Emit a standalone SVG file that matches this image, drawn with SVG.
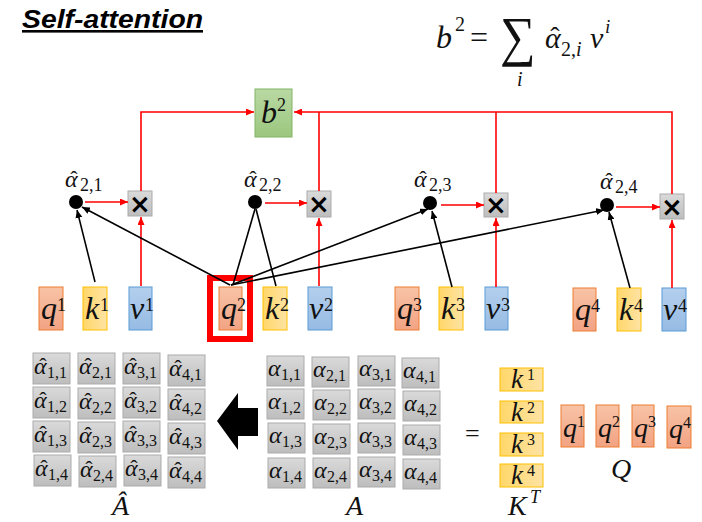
<svg xmlns="http://www.w3.org/2000/svg" width="702" height="522" viewBox="0 0 702 522">
<defs>
<linearGradient id="gq" x1="0" y1="0" x2="0" y2="1"><stop offset="0" stop-color="#F8C3A6"/><stop offset="1" stop-color="#F2A383"/></linearGradient>
<linearGradient id="gk" x1="0" y1="0" x2="1" y2="0"><stop offset="0" stop-color="#FFD76A"/><stop offset="1" stop-color="#FFE3A3"/></linearGradient>
<linearGradient id="gv" x1="0" y1="0" x2="0" y2="1"><stop offset="0" stop-color="#B4CFEE"/><stop offset="1" stop-color="#96BBE3"/></linearGradient>
<linearGradient id="gg" x1="0" y1="0" x2="0" y2="1"><stop offset="0" stop-color="#DADADA"/><stop offset="1" stop-color="#BDBDBD"/></linearGradient>
<linearGradient id="gb" x1="0" y1="0" x2="0" y2="1"><stop offset="0" stop-color="#B9D9A3"/><stop offset="1" stop-color="#9CC77F"/></linearGradient>
<marker id="ar" viewBox="0 0 8 7" markerWidth="8" markerHeight="7" refX="8" refY="3.5" orient="auto" markerUnits="userSpaceOnUse"><path d="M0,0 L8,3.5 L0,7 z" fill="#FF0000"/></marker>
<marker id="ab" viewBox="0 0 8 7" markerWidth="8" markerHeight="7" refX="8" refY="3.5" orient="auto" markerUnits="userSpaceOnUse"><path d="M0,0 L8,3.5 L0,7 z" fill="#000"/></marker>
</defs>
<style>
.m{font-family:"Liberation Serif","DejaVu Serif",serif;font-style:italic;fill:#111}
.n{font-family:"Liberation Serif","DejaVu Serif",serif;fill:#111}
.q{fill:url(#gq);stroke:#ED7D31;stroke-width:1}
.k{fill:url(#gk);stroke:#FFC000;stroke-width:1}
.v{fill:url(#gv);stroke:#5B9BD5;stroke-width:1}
.g{fill:url(#gg);stroke:#ABABAB;stroke-width:1}
.vl{font-size:32px}
.sp{font-size:18px}
.red{stroke:#FF0000;stroke-width:1.6;fill:none}
.blk{stroke:#000;stroke-width:1.6;fill:none}
.cl{font-size:24px;font-style:italic}
.cs{font-size:16px}
.ch{font-size:22px;font-style:normal}
</style>
<rect width="702" height="522" fill="#fff"/>
<text x="22" y="28" font-family="'Liberation Sans',Arial,sans-serif" font-size="26" font-weight="bold" font-style="italic" text-decoration="underline" textLength="181" lengthAdjust="spacingAndGlyphs" fill="#000">Self-attention</text>

<g id="equation">
<text x="436" y="48" class="m" font-size="32">b</text>
<text x="455" y="31" class="n" font-size="20">2</text>
<text x="470" y="48" class="n" font-size="32">=</text>
<text x="500" y="55" class="n" font-size="50" transform="translate(500 55) scale(1 1.1) translate(-500 -55)">∑</text>
<text x="517" y="86" class="m" font-size="20">i</text>
<text class="n" font-size="20"><tspan x="545" y="48" font-size="30" font-style="italic">α</tspan><tspan x="550.3" y="46" font-size="28">ˆ</tspan><tspan x="561" y="56">2,</tspan><tspan font-style="italic">i</tspan></text>
<text x="590" y="48" class="m" font-size="30">v</text>
<text x="605" y="33" class="m" font-size="19">i</text>
</g>

<g id="b2"><rect x="255" y="89" width="37" height="48" fill="url(#gb)" stroke="#82B366" stroke-width="1"/>
<text x="261" y="123" class="m vl">b</text><text x="277" y="111" class="n sp">2</text></g>

<g id="dots">
<g id="a21"><circle cx="76" cy="202" r="7" fill="#000"/><text class="n" font-size="18"><tspan class="cl" x="65" y="187">α</tspan><tspan class="ch" x="70.3" y="186">ˆ</tspan><tspan x="80" y="191">2,1</tspan></text></g>
<g id="a22"><circle cx="255" cy="202" r="7" fill="#000"/><text class="n" font-size="18"><tspan class="cl" x="244" y="187">α</tspan><tspan class="ch" x="249.3" y="186">ˆ</tspan><tspan x="259" y="191">2,2</tspan></text></g>
<g id="a23"><circle cx="430" cy="203" r="7" fill="#000"/><text class="n" font-size="18"><tspan class="cl" x="414" y="187">α</tspan><tspan class="ch" x="419.3" y="186">ˆ</tspan><tspan x="429" y="191">2,3</tspan></text></g>
<g id="a24"><circle cx="607" cy="205" r="7" fill="#000"/><text class="n" font-size="18"><tspan class="cl" x="600" y="189">α</tspan><tspan class="ch" x="605.3" y="188">ˆ</tspan><tspan x="615" y="193">2,4</tspan></text></g>
</g>

<g id="mults" font-family="'DejaVu Sans',sans-serif" font-size="26" font-weight="bold" text-anchor="middle">
<g id="x1"><rect x="128" y="191" width="24" height="25" class="g"/><text x="140" y="213">×</text></g>
<g id="x2"><rect x="307" y="191" width="24" height="26" class="g"/><text x="319" y="213">×</text></g>
<g id="x3"><rect x="484" y="193" width="24" height="24" class="g"/><text x="496" y="214">×</text></g>
<g id="x4"><rect x="660" y="194" width="24" height="25" class="g"/><text x="672" y="216">×</text></g>
</g>

<g id="vectors">
<g id="q1"><rect x="39" y="287" width="24" height="43" class="q"/><text x="41" y="319" class="m vl">q</text><text x="57" y="311" class="n sp">1</text></g>
<g id="k1"><rect x="83" y="287" width="24" height="43" class="k"/><text x="85" y="319" class="m vl">k</text><text x="100" y="311" class="n sp">1</text></g>
<g id="v1"><rect x="129" y="287" width="23" height="43" class="v"/><text x="130" y="319" class="m vl">v</text><text x="145" y="311" class="n sp">1</text></g>
<g id="q2"><rect x="219" y="287" width="23" height="43" class="q"/><text x="221" y="319" class="m vl">q</text><text x="237" y="311" class="n sp">2</text></g>
<g id="k2"><rect x="263" y="287" width="24" height="43" class="k"/><text x="265" y="319" class="m vl">k</text><text x="280" y="311" class="n sp">2</text></g>
<g id="v2"><rect x="308" y="287" width="24" height="43" class="v"/><text x="309" y="319" class="m vl">v</text><text x="324" y="311" class="n sp">2</text></g>
<g id="q3"><rect x="395" y="287" width="24" height="43" class="q"/><text x="397" y="319" class="m vl">q</text><text x="413" y="311" class="n sp">3</text></g>
<g id="k3"><rect x="439" y="287" width="24" height="43" class="k"/><text x="441" y="319" class="m vl">k</text><text x="456" y="311" class="n sp">3</text></g>
<g id="v3"><rect x="485" y="287" width="23" height="43" class="v"/><text x="486" y="319" class="m vl">v</text><text x="501" y="311" class="n sp">3</text></g>
<g id="q4"><rect x="573" y="288" width="23" height="43" class="q"/><text x="575" y="320" class="m vl">q</text><text x="591" y="312" class="n sp">4</text></g>
<g id="k4"><rect x="617" y="288" width="24" height="43" class="k"/><text x="619" y="320" class="m vl">k</text><text x="634" y="312" class="n sp">4</text></g>
<g id="v4"><rect x="662" y="288" width="24" height="43" class="v"/><text x="663" y="320" class="m vl">v</text><text x="678" y="312" class="n sp">4</text></g>
</g>

<rect id="highlight" x="210" y="278" width="40" height="61" fill="none" stroke="#FF0000" stroke-width="6"/>

<g id="connectors">
<path class="red" d="M141,191 V112 H254" marker-end="url(#ar)"/>
<path class="red" d="M672,194 V112 H294" marker-end="url(#ar)"/>
<path class="red" d="M496,193 V112"/>
<path class="red" d="M319,191 V112"/>
<path class="red" d="M85,202 H128" marker-end="url(#ar)"/>
<path class="red" d="M265,203 H307" marker-end="url(#ar)"/>
<path class="red" d="M441,205 H484" marker-end="url(#ar)"/>
<path class="red" d="M616,207 H660" marker-end="url(#ar)"/>
<path class="red" d="M141,286 V217" marker-end="url(#ar)"/>
<path class="red" d="M319,286 V218" marker-end="url(#ar)"/>
<path class="red" d="M496,287 V218" marker-end="url(#ar)"/>
<path class="red" d="M672,288 V220" marker-end="url(#ar)"/>
<path class="blk" d="M95,282 L77,210" marker-end="url(#ab)"/>
<path class="blk" d="M230,285 L82,207" marker-end="url(#ab)"/>
<path class="blk" d="M233,285 L255,209"/>
<path class="blk" d="M276,286 L256,209"/>
<path class="blk" d="M231,285 L428,209" marker-end="url(#ab)"/>
<path class="blk" d="M231,285 L604,210" marker-end="url(#ab)"/>
<path class="blk" d="M452,287 L432,211" marker-end="url(#ab)"/>
<path class="blk" d="M630,288 L609,212" marker-end="url(#ab)"/>
</g>

<g id="Ahat">
<g><rect x="33" y="353" width="37" height="31" class="g"/><text class="n cs"><tspan class="cl" x="34" y="374">α</tspan><tspan class="ch" x="39.3" y="373">ˆ</tspan><tspan x="47" y="378">1,1</tspan></text></g>
<g><rect x="78" y="353" width="37" height="31" class="g"/><text class="n cs"><tspan class="cl" x="79" y="374">α</tspan><tspan class="ch" x="84.3" y="373">ˆ</tspan><tspan x="92" y="378">2,1</tspan></text></g>
<g><rect x="123" y="353" width="37" height="31" class="g"/><text class="n cs"><tspan class="cl" x="124" y="374">α</tspan><tspan class="ch" x="129.3" y="373">ˆ</tspan><tspan x="137" y="378">3,1</tspan></text></g>
<g><rect x="168" y="355" width="37" height="31" class="g"/><text class="n cs"><tspan class="cl" x="169" y="376">α</tspan><tspan class="ch" x="174.3" y="375">ˆ</tspan><tspan x="182" y="380">4,1</tspan></text></g>
<g><rect x="33" y="387" width="37" height="31" class="g"/><text class="n cs"><tspan class="cl" x="34" y="408">α</tspan><tspan class="ch" x="39.3" y="407">ˆ</tspan><tspan x="47" y="412">1,2</tspan></text></g>
<g><rect x="78" y="388" width="37" height="31" class="g"/><text class="n cs"><tspan class="cl" x="79" y="409">α</tspan><tspan class="ch" x="84.3" y="408">ˆ</tspan><tspan x="92" y="413">2,2</tspan></text></g>
<g><rect x="123" y="387" width="37" height="31" class="g"/><text class="n cs"><tspan class="cl" x="124" y="408">α</tspan><tspan class="ch" x="129.3" y="407">ˆ</tspan><tspan x="137" y="412">3,2</tspan></text></g>
<g><rect x="168" y="389" width="37" height="31" class="g"/><text class="n cs"><tspan class="cl" x="169" y="410">α</tspan><tspan class="ch" x="174.3" y="409">ˆ</tspan><tspan x="182" y="414">4,2</tspan></text></g>
<g><rect x="33" y="421" width="37" height="31" class="g"/><text class="n cs"><tspan class="cl" x="34" y="442">α</tspan><tspan class="ch" x="39.3" y="441">ˆ</tspan><tspan x="47" y="446">1,3</tspan></text></g>
<g><rect x="78" y="422" width="37" height="31" class="g"/><text class="n cs"><tspan class="cl" x="79" y="443">α</tspan><tspan class="ch" x="84.3" y="442">ˆ</tspan><tspan x="92" y="447">2,3</tspan></text></g>
<g><rect x="123" y="421" width="37" height="31" class="g"/><text class="n cs"><tspan class="cl" x="124" y="442">α</tspan><tspan class="ch" x="129.3" y="441">ˆ</tspan><tspan x="137" y="446">3,3</tspan></text></g>
<g><rect x="168" y="423" width="37" height="31" class="g"/><text class="n cs"><tspan class="cl" x="169" y="444">α</tspan><tspan class="ch" x="174.3" y="443">ˆ</tspan><tspan x="182" y="448">4,3</tspan></text></g>
<g><rect x="34" y="455" width="37" height="31" class="g"/><text class="n cs"><tspan class="cl" x="35" y="476">α</tspan><tspan class="ch" x="40.3" y="475">ˆ</tspan><tspan x="48" y="480">1,4</tspan></text></g>
<g><rect x="79" y="456" width="37" height="31" class="g"/><text class="n cs"><tspan class="cl" x="80" y="477">α</tspan><tspan class="ch" x="85.3" y="476">ˆ</tspan><tspan x="93" y="481">2,4</tspan></text></g>
<g><rect x="124" y="455" width="37" height="31" class="g"/><text class="n cs"><tspan class="cl" x="125" y="476">α</tspan><tspan class="ch" x="130.3" y="475">ˆ</tspan><tspan x="138" y="480">3,4</tspan></text></g>
<g><rect x="168" y="457" width="37" height="31" class="g"/><text class="n cs"><tspan class="cl" x="169" y="478">α</tspan><tspan class="ch" x="174.3" y="477">ˆ</tspan><tspan x="182" y="482">4,4</tspan></text></g>
<text x="112" y="515" class="m" font-size="28">Â</text>
</g>

<polygon id="bigarrow" points="217,421 238,393 238,408 258,408 258,436 238,436 238,450" fill="#000"/>

<g id="A">
<g><rect x="267" y="356" width="37" height="30" class="g"/><text x="268" y="376" class="m cl">α</text><text x="281" y="380" class="n cs">1,1</text></g>
<g><rect x="312" y="357" width="37" height="30" class="g"/><text x="313" y="377" class="m cl">α</text><text x="326" y="381" class="n cs">2,1</text></g>
<g><rect x="358" y="356" width="37" height="30" class="g"/><text x="359" y="376" class="m cl">α</text><text x="372" y="380" class="n cs">3,1</text></g>
<g><rect x="402" y="358" width="37" height="30" class="g"/><text x="403" y="378" class="m cl">α</text><text x="416" y="382" class="n cs">4,1</text></g>
<g><rect x="267" y="389" width="37" height="30" class="g"/><text x="268" y="409" class="m cl">α</text><text x="281" y="413" class="n cs">1,2</text></g>
<g><rect x="313" y="390" width="37" height="30" class="g"/><text x="314" y="410" class="m cl">α</text><text x="327" y="414" class="n cs">2,2</text></g>
<g><rect x="358" y="389" width="37" height="30" class="g"/><text x="359" y="409" class="m cl">α</text><text x="372" y="413" class="n cs">3,2</text></g>
<g><rect x="403" y="391" width="37" height="30" class="g"/><text x="404" y="411" class="m cl">α</text><text x="417" y="415" class="n cs">4,2</text></g>
<g><rect x="268" y="423" width="37" height="30" class="g"/><text x="269" y="443" class="m cl">α</text><text x="282" y="447" class="n cs">1,3</text></g>
<g><rect x="313" y="424" width="37" height="30" class="g"/><text x="314" y="444" class="m cl">α</text><text x="327" y="448" class="n cs">2,3</text></g>
<g><rect x="358" y="423" width="37" height="30" class="g"/><text x="359" y="443" class="m cl">α</text><text x="372" y="447" class="n cs">3,3</text></g>
<g><rect x="403" y="425" width="37" height="30" class="g"/><text x="404" y="445" class="m cl">α</text><text x="417" y="449" class="n cs">4,3</text></g>
<g><rect x="268" y="458" width="37" height="30" class="g"/><text x="269" y="478" class="m cl">α</text><text x="282" y="482" class="n cs">1,4</text></g>
<g><rect x="313" y="458" width="37" height="30" class="g"/><text x="314" y="478" class="m cl">α</text><text x="327" y="482" class="n cs">2,4</text></g>
<g><rect x="358" y="457" width="37" height="30" class="g"/><text x="359" y="477" class="m cl">α</text><text x="372" y="481" class="n cs">3,4</text></g>
<g><rect x="403" y="459" width="37" height="30" class="g"/><text x="404" y="479" class="m cl">α</text><text x="417" y="483" class="n cs">4,4</text></g>
<text x="346" y="515" class="m" font-size="28">A</text>
</g>

<text x="465" y="442" class="n" font-size="26">=</text>

<g id="KT">
<g><rect x="500" y="368" width="43" height="23" class="k"/><text x="511" y="388" class="m" font-size="27">k</text><text x="527" y="380" class="n" font-size="16">1</text></g>
<g><rect x="500" y="401" width="43" height="22" class="k"/><text x="511" y="421" class="m" font-size="27">k</text><text x="527" y="413" class="n" font-size="16">2</text></g>
<g><rect x="500" y="433" width="43" height="23" class="k"/><text x="511" y="453" class="m" font-size="27">k</text><text x="527" y="445" class="n" font-size="16">3</text></g>
<g><rect x="500" y="464" width="43" height="23" class="k"/><text x="511" y="484" class="m" font-size="27">k</text><text x="527" y="476" class="n" font-size="16">4</text></g>
<text x="508" y="515" class="m" font-size="28">K</text><text x="530" y="503" class="m" font-size="18">T</text>
</g>

<g id="Q">
<g><rect x="561" y="405" width="23" height="42" class="q"/><text x="563" y="437" class="m" font-size="28">q</text><text x="577" y="427" class="n" font-size="16">1</text></g>
<g><rect x="596" y="405" width="23" height="42" class="q"/><text x="598" y="437" class="m" font-size="28">q</text><text x="612" y="427" class="n" font-size="16">2</text></g>
<g><rect x="632" y="405" width="22" height="42" class="q"/><text x="634" y="437" class="m" font-size="28">q</text><text x="648" y="427" class="n" font-size="16">3</text></g>
<g><rect x="667" y="406" width="24" height="42" class="q"/><text x="669" y="438" class="m" font-size="28">q</text><text x="683" y="428" class="n" font-size="16">4</text></g>
<text x="611" y="478" class="m" font-size="28">Q</text>
</g>
</svg>
